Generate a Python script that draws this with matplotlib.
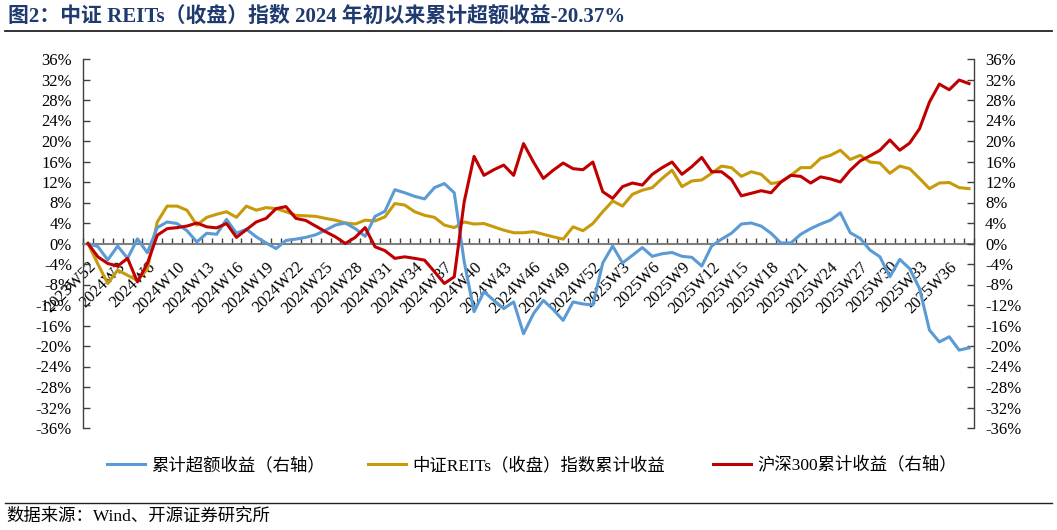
import matplotlib
matplotlib.use("Agg")
import matplotlib.pyplot as plt
from matplotlib.lines import Line2D
from matplotlib.ticker import FixedLocator, FuncFormatter

# ---------------- data ----------------
weeks = (['2023W52']
         + ['2024W%d' % w for w in range(1, 7)]
         + ['2024W%d' % w for w in range(8, 53)]
         + ['2025W%d' % w for w in range(1, 39)])

excess = [0, -0.6, -3.2, -0.5, -2.9, 0.9, -1.8, 3.1, 4.2, 3.9,
          2.5, 0.3, 2.0, 1.8, 4.7, 2.0, 2.8, 1.3, 0.1, -1.0,
          0.6, 0.85, 1.2, 1.7, 2.6, 3.6, 4.0, 2.9, 1.4, 5.3,
          6.3, 10.5, 9.9, 9.2, 8.7, 10.9, 11.7, 9.9, -3.5, -13.3,
          -9.4, -11.1, -12.7, -11.4, -17.6, -13.7, -11.1, -12.9, -15.0, -11.4,
          -11.8, -12.0, -3.8, -0.5, -3.8, -2.3, -0.8, -2.5, -2.0, -1.75,
          -2.5, -2.7, -4.4, -0.5, 0.85, 2.0, 3.8, 4.0, 3.4, 2.0,
          0.1, 0.1, 1.8, 2.9, 3.8, 4.55, 6.0, 2.1, 1.0, -1.3,
          -2.6, -6.5, -3.1, -4.9, -8.8, -16.9, -19.2, -18.2, -20.8, -20.37]

reits = [0, -4.0, -7.8, -5.2, -6.2, -7.2, -5.0, 4.2, 7.3, 7.3,
         6.5, 3.6, 5.1, 5.7, 6.2, 5.1, 7.3, 6.5, 7.0, 6.8,
         6.2, 5.5, 5.4, 5.3, 4.9, 4.55, 4.0, 3.8, 4.55, 4.4,
         5.2, 7.8, 7.5, 6.2, 5.5, 5.1, 3.6, 3.1, 4.2, 3.8,
         3.9, 3.25, 2.6, 2.1, 2.1, 2.3, 1.8, 1.3, 0.85, 3.25,
         2.5, 3.9, 6.2, 8.3, 7.3, 9.6, 10.4, 10.9, 12.7, 14.3,
         11.1, 12.2, 12.4, 13.7, 15.1, 14.8, 13.1, 14.0, 13.5, 11.7,
         12.0, 13.3, 14.8, 14.8, 16.6, 17.2, 18.2, 16.4, 17.2, 15.9,
         15.7, 13.7, 15.1, 14.6, 12.7, 10.7, 11.8, 11.9, 10.9, 10.7]

hs300 = [0, -2.6, -3.9, -4.4, -2.9, -7.5, -3.9, 1.6, 2.9, 3.1,
         3.4, 4.0, 3.25, 3.05, 3.9, 1.2, 2.7, 4.2, 4.9, 6.8,
         7.2, 4.9, 4.5, 3.4, 2.3, 1.3, 0.0, 1.2, 3.1, -0.65,
         -1.4, -2.9, -2.6, -2.9, -3.25, -5.5, -7.8, -6.5, 8.1, 17.0,
         13.3, 14.4, 15.3, 13.3, 19.5, 15.9, 12.7, 14.3, 15.7, 14.6,
         14.4, 15.9, 10.1, 8.8, 11.1, 11.8, 11.4, 13.5, 14.8, 15.9,
         13.5, 15.0, 16.8, 14.0, 14.0, 12.5, 9.3, 9.8, 10.3, 9.9,
         12.0, 13.3, 13.1, 11.8, 13.0, 12.6, 12.0, 14.3, 16.1, 17.1,
         18.2, 20.2, 18.2, 19.6, 22.4, 27.6, 31.1, 30.0, 31.9, 31.2]

yticks = list(range(-36, 37, 4))
label_step = 3

title = '图2：中证 REITs（收盘）指数 2024 年初以来累计超额收益-20.37%'
source = '数据来源：Wind、开源证券研究所'
names = ['累计超额收益（右轴）', '中证REITs（收盘）指数累计收益', '沪深300累计收益（右轴）']

# ---------------- style ----------------
W, H = 1057, 530
C_BLUE, C_GOLD, C_RED = '#5B9BD5', '#C89A0A', '#C00000'
SERIF = ['Liberation Serif', 'Noto Sans CJK SC', 'DejaVu Sans']
plt.rcParams['font.family'] = SERIF

fig = plt.figure(figsize=(W / 100, H / 100), dpi=100)
ax = fig.add_axes([83 / W, 1 - 428 / H, (974 - 83) / W, (428 - 59) / H])
ax2 = ax.twinx()

x = list(range(len(weeks)))
l_gold, = ax.plot(x, reits, color=C_GOLD, lw=2.2, solid_joinstyle='round')
l_blue, = ax2.plot(x, excess, color=C_BLUE, lw=2.2, solid_joinstyle='round')
l_red, = ax2.plot(x, hs300, color=C_RED, lw=2.2, solid_joinstyle='round')

for a in (ax, ax2):
    a.set_xlim(-0.5, len(weeks) - 0.5)
    a.set_ylim(-36, 36)
    a.set_yticks(yticks)
    a.yaxis.set_major_formatter(FuncFormatter(lambda v, p: '%d%%' % round(v)))
    a.spines['top'].set_visible(False)

ax2.spines['bottom'].set_visible(False)
ax2.spines['left'].set_visible(False)
ax.spines['right'].set_visible(False)
for sp in (ax.spines['left'], ax2.spines['right']):
    sp.set_color('#404040')
    sp.set_linewidth(1.0)

ax.spines['bottom'].set_position(('data', 0))
ax.spines['bottom'].set_color('#808080')
ax.spines['bottom'].set_linewidth(1.5)

ax.tick_params(axis='y', direction='in', length=5, width=1, color='#404040',
               labelsize=12, pad=8)
ax2.tick_params(axis='y', direction='in', length=5, width=1, color='#404040',
                labelsize=12, pad=8)

ax.xaxis.set_major_locator(FixedLocator(x[::label_step]))
ax.set_xticklabels(weeks[::label_step])
ax.xaxis.set_minor_locator(FixedLocator([i - 0.5 for i in range(len(weeks) + 1)]))
ax.tick_params(axis='x', which='major', length=0, labelsize=12, pad=11)
ax.tick_params(axis='x', which='minor', direction='in', length=4, width=1, color='#404040')
plt.setp(ax.get_xticklabels(), rotation=45, ha='right', rotation_mode='anchor')

# title & rules
fig.text(8 / W, 1 - 17 / H, title, ha='left', va='center', fontsize=15,
         fontweight='bold', color='#1F3A6E', family=SERIF)
fig.add_artist(Line2D([5 / W, 1052 / W], [1 - 31 / H, 1 - 31 / H], color='#222222', lw=1.3))
fig.add_artist(Line2D([5 / W, 1052 / W], [1 - 503 / H, 1 - 503 / H], color='#222222', lw=1.0))
fig.text(6 / W, 1 - 517 / H, source, ha='left', va='center', fontsize=12.5, family=SERIF)

# legend
for h, lab, xp in ((l_blue, names[0], 107), (l_gold, names[1], 368), (l_red, names[2], 713)):
    fig.legend([h], [lab], loc='center left', bbox_to_anchor=(xp / W, 1 - 466 / H),
               frameon=False, borderpad=0, borderaxespad=0, handlelength=2.2,
               handletextpad=0.35, prop={'family': SERIF, 'size': 12.5})

fig.savefig('out.png', dpi=100)
